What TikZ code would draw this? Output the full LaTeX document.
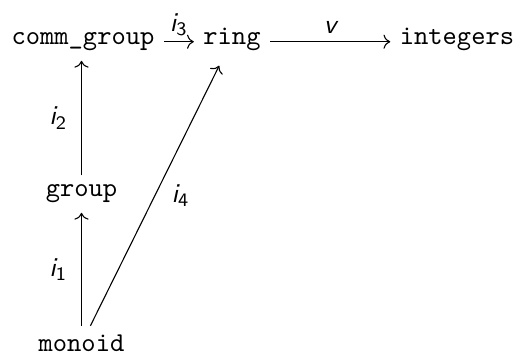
\documentclass[tikz,border=0pt]{standalone}
\usetikzlibrary{arrows.meta,positioning}
\tikzset{
  obj/.style={font=\ttfamily,anchor=base},
  map/.style={->,line width=0.4pt},
  lbl/.style={font=\sffamily\itshape,inner sep=2pt},
}
\newcommand{\mapname}[2]{#1\textsubscript{\upshape #2}}

\begin{document}
\begin{tikzpicture}[x=0.3676pt,y=-0.3676pt]
        \useasboundingbox (0,0) rectangle (523,355);
        \node[obj] (cg) at (83,45) {comm\_group};
        \node[obj] (rg) at (232,45) {ring};
        \node[obj] (zz) at (457,45) {integers};
        \node[obj] (gp) at (81.5,197) {group};
        \node[obj] (mo) at (81.5,352) {monoid};
        \draw[map] (mo) -- node[lbl,left=3pt] (l1) {\mapname{i}{1}} (gp);
        \draw[map] (gp) -- node[lbl,left=3pt] (l2) {\mapname{i}{2}} (cg.south -| gp);
        \draw[map] ([yshift=1.2pt]cg.base east) -- node[lbl,above=0pt] (l3) {\mapname{i}{3}} ([yshift=1.2pt]rg.base west);
        \draw[map] ([yshift=1.2pt]rg.base east) -- node[lbl,above=1pt] (lv) {v} ([yshift=1.2pt]zz.base west);
        \draw[map,shorten >=2pt] (mo) -- node[lbl,right=4pt,pos=0.49] (l4) {\mapname{i}{4}} (rg);
      \end{tikzpicture}
\end{document}
